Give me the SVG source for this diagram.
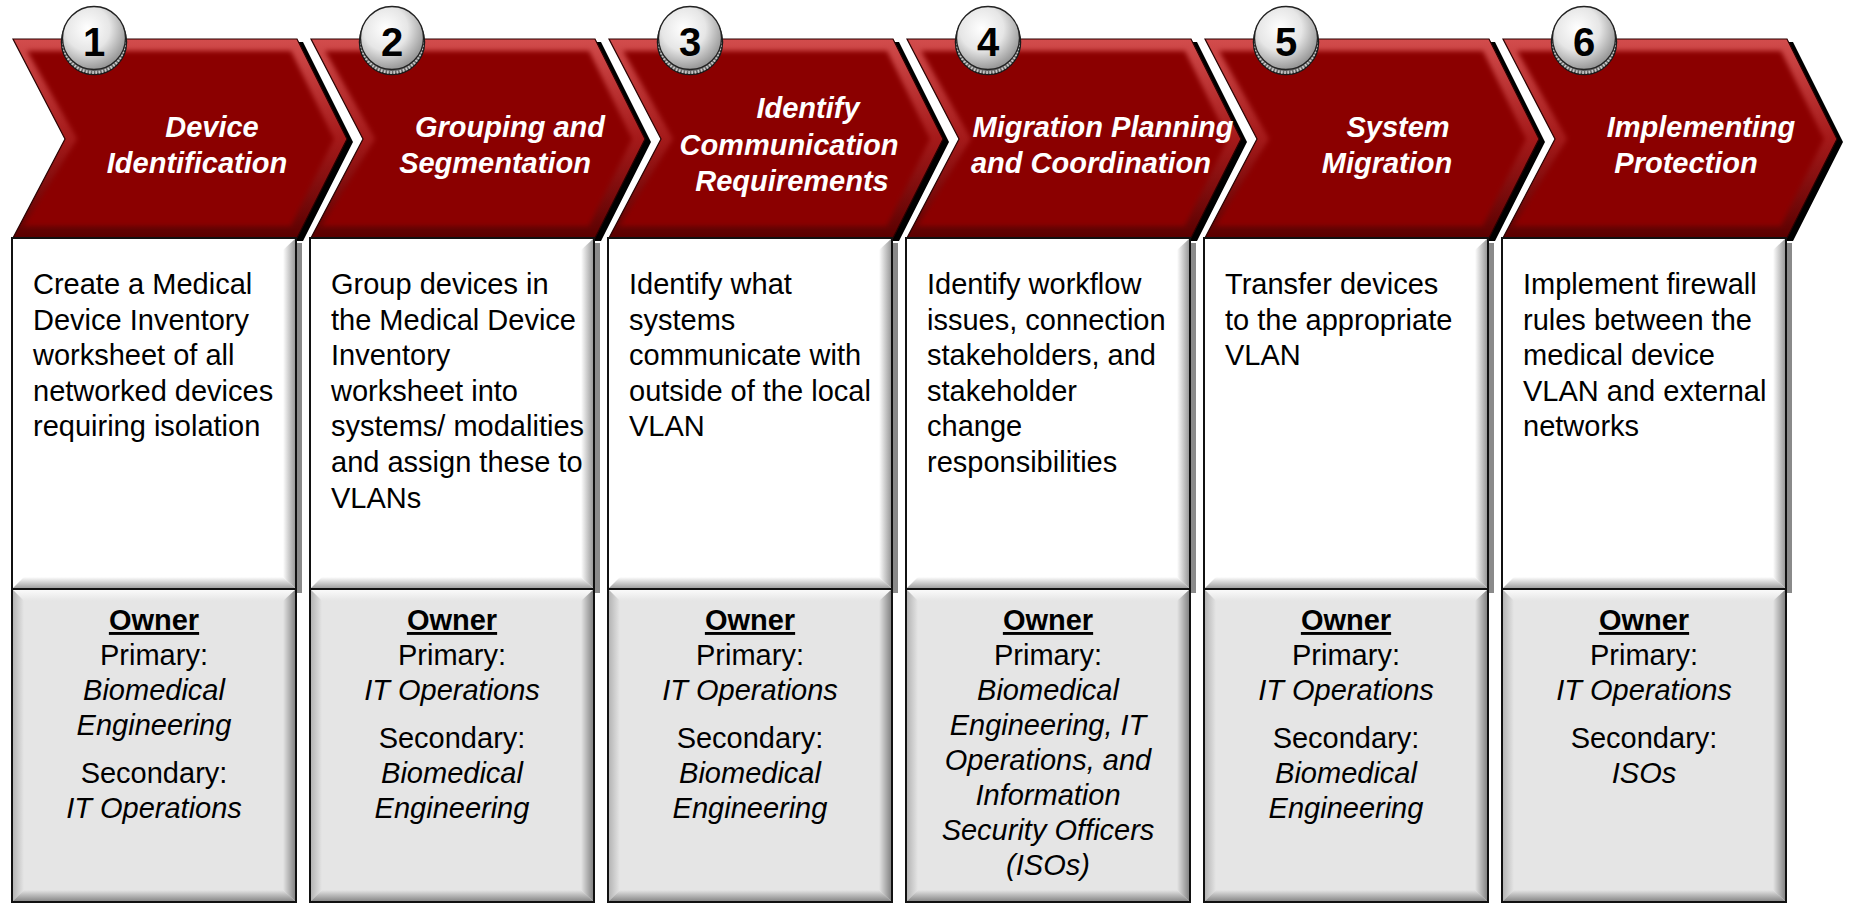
<svg xmlns="http://www.w3.org/2000/svg" xmlns:xlink="http://www.w3.org/1999/xlink" width="1849" height="904" viewBox="0 0 1849 904">
<style>
.title{font-family:"Liberation Sans",Arial,sans-serif;font-size:29px;font-weight:bold;font-style:italic;fill:#fff;text-anchor:middle}
.num{font-family:"Liberation Sans",Arial,sans-serif;font-size:40px;font-weight:bold;fill:#000;text-anchor:middle}
.body{font-family:"Liberation Sans",Arial,sans-serif;font-size:29px;fill:#000}
.own{font-family:"Liberation Sans",Arial,sans-serif;font-size:29px;fill:#000;text-anchor:middle}
.ownh{font-weight:bold;text-decoration:underline}
.it{font-style:italic}
</style>
<defs>
<linearGradient id="redOuter" x1="0" y1="0" x2="0" y2="1">
<stop offset="0" stop-color="#d24c4c"/>
<stop offset="0.5" stop-color="#a51a1a"/>
<stop offset="1" stop-color="#5a0000"/>
</linearGradient>
<radialGradient id="face" cx="0.4" cy="0.35" r="0.7">
<stop offset="0" stop-color="#ffffff"/>
<stop offset="0.5" stop-color="#e6e6e6"/>
<stop offset="1" stop-color="#8c8c8c"/>
</radialGradient>
<linearGradient id="gR" x1="0" y1="0" x2="1" y2="0">
<stop offset="0" stop-color="#ffffff"/>
<stop offset="1" stop-color="#9a9a9a"/>
</linearGradient>
<linearGradient id="gB" x1="0" y1="0" x2="0" y2="1">
<stop offset="0" stop-color="#ffffff"/>
<stop offset="1" stop-color="#a0a0a0"/>
</linearGradient>
<linearGradient id="ggT" x1="0" y1="0" x2="0" y2="1">
<stop offset="0" stop-color="#fafafa"/>
<stop offset="1" stop-color="#e5e5e5"/>
</linearGradient>
<linearGradient id="ggL" x1="0" y1="0" x2="1" y2="0">
<stop offset="0" stop-color="#b5b5b5"/>
<stop offset="1" stop-color="#e5e5e5"/>
</linearGradient>
<linearGradient id="ggR" x1="0" y1="0" x2="1" y2="0">
<stop offset="0" stop-color="#e5e5e5"/>
<stop offset="1" stop-color="#858585"/>
</linearGradient>
<linearGradient id="ggB" x1="0" y1="0" x2="0" y2="1">
<stop offset="0" stop-color="#e5e5e5"/>
<stop offset="1" stop-color="#8a8a8a"/>
</linearGradient>
<filter id="soft" x="-5%" y="-5%" width="110%" height="110%">
<feGaussianBlur stdDeviation="2.5"/>
</filter>
<polygon id="chevOuter" points="0,0 284,0 334,100 284,199 0,199 52,100"/>
<clipPath id="chevClip"><polygon points="0,0 284,0 334,100 284,199 0,199 52,100"/></clipPath>
<g id="chev">
<use xlink:href="#chevOuter" transform="translate(6,3)" fill="#000"/>
<use xlink:href="#chevOuter" fill="url(#redOuter)"/>
<g clip-path="url(#chevClip)">
<polygon points="14,12 278,12 321,100 278,187 10,187 64,100" fill="#8b0303" filter="url(#soft)"/>
</g>
<use xlink:href="#chevOuter" fill="none" stroke="#2a0000" stroke-width="1.2"/>
</g>
<g id="coin">
<circle cx="0" cy="42" r="32.5" fill="#6a6a6a" stroke="#1a1a1a" stroke-width="1.5"/>
<circle cx="0" cy="42" r="30.5" fill="none" stroke="#c8c8c8" stroke-width="3" stroke-dasharray="1.6 1.6"/>
<circle cx="0" cy="38" r="31.5" fill="url(#face)" stroke="#222" stroke-width="1.3"/>
</g>
<g id="wbox">
<rect x="284" y="5" width="6" height="350" fill="#8a8a8a"/>
<rect x="0" y="0" width="284" height="351" fill="#fff"/>
<polygon points="283,1 283,350 271,339 271,12" fill="url(#gR)"/>
<polygon points="1,350 283,350 271,339 12,339" fill="url(#gB)"/>
<rect x="0" y="0" width="284" height="351" fill="none" stroke="#111" stroke-width="2"/>
</g>
<g id="gbox">
<rect x="0" y="0" width="284" height="313" fill="#e5e5e5"/>
<polygon points="1,1 283,1 271,12 12,12" fill="url(#ggT)"/>
<polygon points="1,1 12,12 12,301 1,312" fill="url(#ggL)"/>
<polygon points="283,1 283,312 271,301 271,12" fill="url(#ggR)"/>
<polygon points="1,312 283,312 271,301 12,301" fill="url(#ggB)"/>
<rect x="0" y="0" width="284" height="313" fill="none" stroke="#111" stroke-width="2"/>
</g>
</defs>
<rect width="1849" height="904" fill="#fff"/>

<g id="connectors"></g>

<g id="step1">
<use xlink:href="#chev" x="13" y="39"/>
<use xlink:href="#coin" x="94" y="0"/>
<text class="num" x="94" y="56">1</text>
<text class="title" x="212" y="137">Device</text>
<text class="title" x="197" y="173">Identification</text>
<use xlink:href="#wbox" x="12" y="238"/>
<text class="body" x="33"><tspan x="33" y="294">Create a Medical</tspan><tspan x="33" y="329.6">Device Inventory</tspan><tspan x="33" y="365.2">worksheet of all</tspan><tspan x="33" y="400.8">networked devices</tspan><tspan x="33" y="436.4">requiring isolation</tspan></text>
<use xlink:href="#gbox" x="12" y="589"/>
<text class="own"><tspan class="ownh" x="154" y="630">Owner</tspan><tspan x="154" y="665">Primary:</tspan><tspan class="it" x="154" y="700">Biomedical</tspan><tspan class="it" x="154" y="735">Engineering</tspan><tspan x="154" y="783">Secondary:</tspan><tspan class="it" x="154" y="818">IT Operations</tspan></text>
</g>

<g id="step2">
<use xlink:href="#chev" x="311" y="39"/>
<use xlink:href="#coin" x="392" y="0"/>
<text class="num" x="392" y="56">2</text>
<text class="title" x="510" y="137">Grouping and</text>
<text class="title" x="495" y="173">Segmentation</text>
<use xlink:href="#wbox" x="310" y="238"/>
<text class="body"><tspan x="331" y="294">Group devices in</tspan><tspan x="331" y="329.6">the Medical Device</tspan><tspan x="331" y="365.2">Inventory</tspan><tspan x="331" y="400.8">worksheet into</tspan><tspan x="331" y="436.4">systems/ modalities</tspan><tspan x="331" y="472">and assign these to</tspan><tspan x="331" y="507.6">VLANs</tspan></text>
<use xlink:href="#gbox" x="310" y="589"/>
<text class="own"><tspan class="ownh" x="452" y="630">Owner</tspan><tspan x="452" y="665">Primary:</tspan><tspan class="it" x="452" y="700">IT Operations</tspan><tspan x="452" y="748">Secondary:</tspan><tspan class="it" x="452" y="783">Biomedical</tspan><tspan class="it" x="452" y="818">Engineering</tspan></text>
</g>

<g id="step3">
<use xlink:href="#chev" x="609" y="39"/>
<use xlink:href="#coin" x="690" y="0"/>
<text class="num" x="690" y="56">3</text>
<text class="title" x="808" y="118">Identify</text>
<text class="title" x="789" y="155">Communication</text>
<text class="title" x="792" y="191">Requirements</text>
<use xlink:href="#wbox" x="608" y="238"/>
<text class="body"><tspan x="629" y="294">Identify what</tspan><tspan x="629" y="329.6">systems</tspan><tspan x="629" y="365.2">communicate with</tspan><tspan x="629" y="400.8">outside of the local</tspan><tspan x="629" y="436.4">VLAN</tspan></text>
<use xlink:href="#gbox" x="608" y="589"/>
<text class="own"><tspan class="ownh" x="750" y="630">Owner</tspan><tspan x="750" y="665">Primary:</tspan><tspan class="it" x="750" y="700">IT Operations</tspan><tspan x="750" y="748">Secondary:</tspan><tspan class="it" x="750" y="783">Biomedical</tspan><tspan class="it" x="750" y="818">Engineering</tspan></text>
</g>

<g id="step4">
<use xlink:href="#chev" x="907" y="39"/>
<use xlink:href="#coin" x="988" y="0"/>
<text class="num" x="988" y="56">4</text>
<text class="title" x="1103" y="137">Migration Planning</text>
<text class="title" x="1091" y="173">and Coordination</text>
<use xlink:href="#wbox" x="906" y="238"/>
<text class="body"><tspan x="927" y="294">Identify workflow</tspan><tspan x="927" y="329.6">issues, connection</tspan><tspan x="927" y="365.2">stakeholders, and</tspan><tspan x="927" y="400.8">stakeholder</tspan><tspan x="927" y="436.4">change</tspan><tspan x="927" y="472">responsibilities</tspan></text>
<use xlink:href="#gbox" x="906" y="589"/>
<text class="own"><tspan class="ownh" x="1048" y="630">Owner</tspan><tspan x="1048" y="665">Primary:</tspan><tspan class="it" x="1048" y="700">Biomedical</tspan><tspan class="it" x="1048" y="735">Engineering, IT</tspan><tspan class="it" x="1048" y="770">Operations, and</tspan><tspan class="it" x="1048" y="805">Information</tspan><tspan class="it" x="1048" y="840">Security Officers</tspan><tspan class="it" x="1048" y="875">(ISOs)</tspan></text>
</g>

<g id="step5">
<use xlink:href="#chev" x="1205" y="39"/>
<use xlink:href="#coin" x="1286" y="0"/>
<text class="num" x="1286" y="56">5</text>
<text class="title" x="1398" y="137">System</text>
<text class="title" x="1387" y="173">Migration</text>
<use xlink:href="#wbox" x="1204" y="238"/>
<text class="body"><tspan x="1225" y="294">Transfer devices</tspan><tspan x="1225" y="329.6">to the appropriate</tspan><tspan x="1225" y="365.2">VLAN</tspan></text>
<use xlink:href="#gbox" x="1204" y="589"/>
<text class="own"><tspan class="ownh" x="1346" y="630">Owner</tspan><tspan x="1346" y="665">Primary:</tspan><tspan class="it" x="1346" y="700">IT Operations</tspan><tspan x="1346" y="748">Secondary:</tspan><tspan class="it" x="1346" y="783">Biomedical</tspan><tspan class="it" x="1346" y="818">Engineering</tspan></text>
</g>

<g id="step6">
<use xlink:href="#chev" x="1503" y="39"/>
<use xlink:href="#coin" x="1584" y="0"/>
<text class="num" x="1584" y="56">6</text>
<text class="title" x="1701" y="137">Implementing</text>
<text class="title" x="1686" y="173">Protection</text>
<use xlink:href="#wbox" x="1502" y="238"/>
<text class="body"><tspan x="1523" y="294">Implement firewall</tspan><tspan x="1523" y="329.6">rules between the</tspan><tspan x="1523" y="365.2">medical device</tspan><tspan x="1523" y="400.8">VLAN and external</tspan><tspan x="1523" y="436.4">networks</tspan></text>
<use xlink:href="#gbox" x="1502" y="589"/>
<text class="own"><tspan class="ownh" x="1644" y="630">Owner</tspan><tspan x="1644" y="665">Primary:</tspan><tspan class="it" x="1644" y="700">IT Operations</tspan><tspan x="1644" y="748">Secondary:</tspan><tspan class="it" x="1644" y="783">ISOs</tspan></text>
</g>
</svg>
